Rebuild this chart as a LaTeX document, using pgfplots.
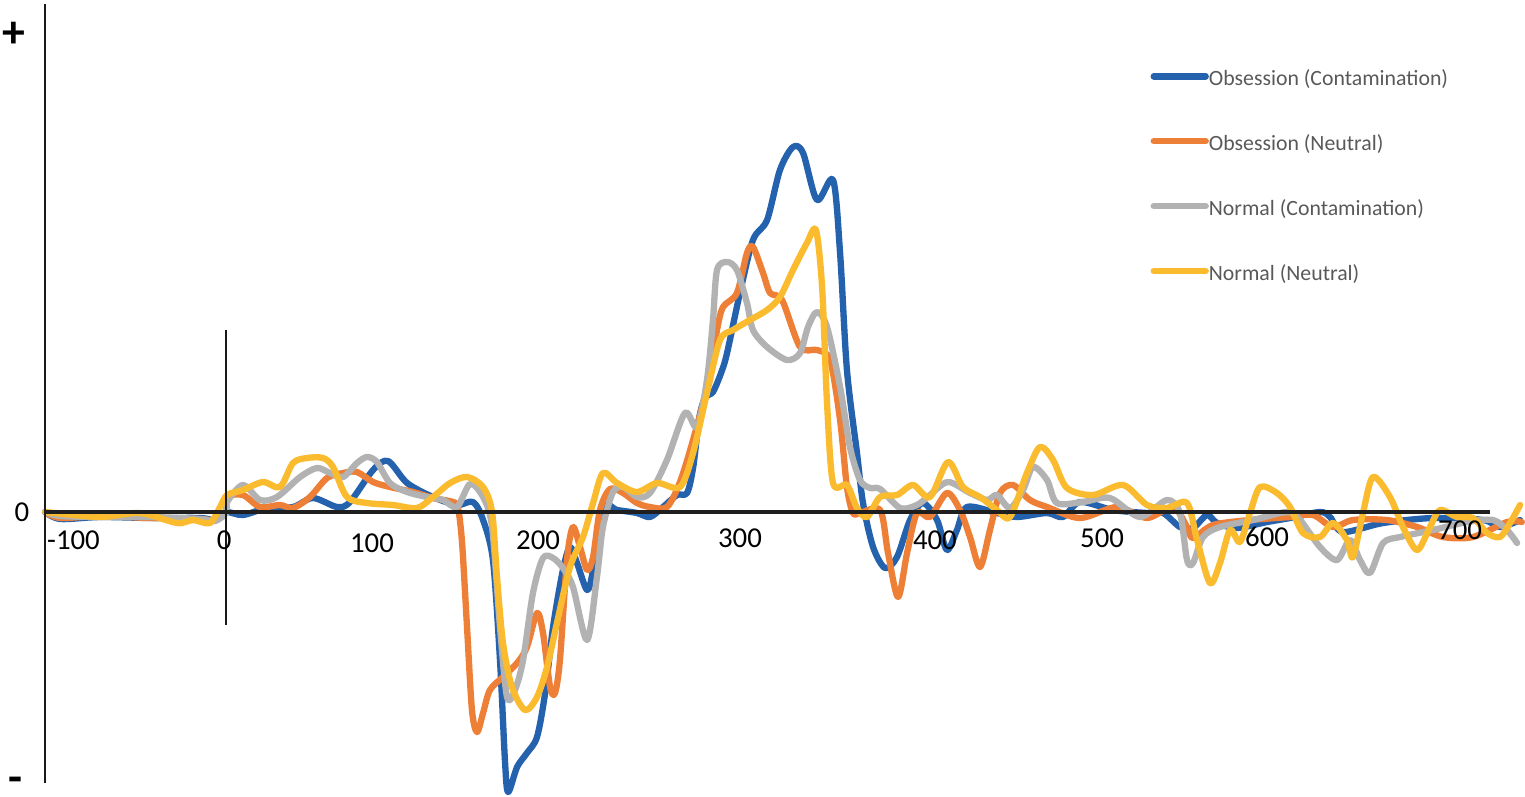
\documentclass[border=0pt]{standalone}
\usepackage{fontspec}
\setmainfont{Carlito}
\usepackage{pgfplots}
\pgfplotsset{compat=1.18}

\definecolor{oc}{HTML}{2462AE}
\definecolor{on}{HTML}{EE7F37}
\definecolor{nc}{HTML}{B2B2B2}
\definecolor{nn}{HTML}{FBBB2E}
\definecolor{legtext}{HTML}{595959}

\begin{document}
\begin{tikzpicture}
\begin{axis}[
  scale only axis, width=15.25cm, height=7.96cm,
  xmin=-128.2, xmax=736.8, ymin=-2.84, ymax=5.12,
  axis lines=none,
  every axis plot/.append style={line width=1.8pt, line cap=round, line join=round, smooth, tension=0.5},
  legend cell align=left,
  legend image code/.code={\draw[#1] (0mm,0mm) -- (5.2mm,0mm);},
  legend style={draw=none, fill=none, at={(rel axis cs:0.754,0.925)}, anchor=north west,
    inner sep=0pt, row sep=3.3mm, font=\fontsize{6.2}{7.4}\selectfont, text=legtext,
    nodes={inner sep=0pt, text height=1.5ex, text depth=.4ex},
    /tikz/every even column/.append style={column sep=0.15mm}},
]
\path (rel axis cs:0,0) rectangle (rel axis cs:1,1);

% Obsession (Contamination)
\addplot[oc] coordinates {
(-102.7,0) (-94,-0.07) (-71.5,-0.05) (-43,-0.06) (-14.7,-0.06) (-6.2,-0.08) (0,0)
(9.6,-0.03) (23.3,0.04) (38,0.05) (49.3,0.14) (63,0.05) (70.3,0.10) (83.4,0.42)
(91.9,0.51) (102.7,0.29) (117.4,0.15) (131,0.07) (140.1,0.10) (145.8,-0.08)
(151.4,-0.48) (155.4,-1.48) (158.2,-2.48) (160,-2.80) (165.1,-2.55) (170.7,-2.41)
(176.4,-2.25) (181,-1.81) (185.5,-1.15) (191.1,-0.58) (195.1,-0.35) (199.1,-0.51)
(204.8,-0.78) (208.2,-0.58) (213.8,0.05) (221.8,0.02) (233.1,-0.01) (240.5,-0.05)
(247.9,0.05) (255.8,0.17) (261.5,0.19) (265,0.45) (268.5,0.95) (272,1.15) (276.2,1.20)
(281,1.40) (284.2,1.59) (291.5,2.19) (298.9,2.72) (306.9,2.92) (314.2,3.42)
(321.6,3.65) (327.3,3.59) (335.2,3.12) (344.3,3.32) (348.3,2.59) (352.2,1.42)
(357.9,0.59) (361.3,0.09) (367,-0.35) (373.8,-0.56) (380.6,-0.45) (388,-0.08)
(395.3,0.09) (403.3,-0.08) (408.9,-0.38) (414.6,-0.18) (420.3,0.05) (437.3,-0.01)
(448.7,-0.05) (465.7,-0.01) (474.7,-0.05) (484.4,0.10) (503.1,0.02) (522.4,-0.01)
(531.5,-0.01) (541.1,-0.15) (548.5,-0.16) (556.4,-0.03) (562.1,-0.11) (573.4,-0.16)
(590.5,-0.10) (603.5,-0.06) (620.5,0) (626.2,-0.05) (633.6,-0.20) (656.3,-0.11)
(684.6,-0.06) (713,-0.08) (722.6,-0.15) (734,-0.08)
};
\addlegendentry{Obsession (Contamination)}

% Obsession (Neutral)
\addplot[on] coordinates {
(-102.7,0) (-94,-0.06) (-71.5,-0.04) (-43,-0.06) (-14.7,-0.07) (-6.2,-0.08) (0,0)
(0.6,0.15) (9.6,0.17) (19.3,0.05) (30.6,0.07) (38,0.04) (47.6,0.15) (57.3,0.34)
(66.4,0.39) (74.3,0.40) (83.4,0.30) (93,0.25) (106.1,0.20) (117.4,0.14) (128.8,0.10)
(131.6,0.04) (133.9,-0.31) (136.7,-1.15) (139.5,-1.98) (142.4,-2.20) (145.8,-2.01)
(149.7,-1.78) (157.1,-1.65) (165.1,-1.51) (170.7,-1.35) (176.4,-1.01) (179.8,-1.21)
(183.8,-1.75) (186.6,-1.81) (189.4,-1.48) (193.4,-0.48) (196.8,-0.15) (200.8,-0.35)
(204.8,-0.58) (208.2,-0.45) (212.1,0.02) (217.8,0.23) (225.2,0.19) (233.1,0.09)
(240.5,0.05) (250.1,0.05) (257.5,0.30) (264.9,0.72) (272.8,1.25) (278.5,1.82)
(281.9,2.05) (289.8,2.19) (295.5,2.59) (298.9,2.65) (304.6,2.39) (308.6,2.19)
(315.4,2.12) (325.6,1.65) (335.2,1.62) (342.6,1.52) (348.3,0.92) (352.2,0.25)
(355.6,-0.01) (359.6,-0.01) (371,0.02) (375.5,-0.41) (381.2,-0.85) (386.3,-0.41)
(391.9,-0.01) (399.3,-0.05) (408.9,0.19) (416.3,0.02) (422,-0.25) (427.7,-0.55)
(433.3,-0.18) (439,0.19) (446.4,0.27) (456,0.12) (465.7,0.05) (484.4,-0.06)
(505.4,0.05) (522.4,-0.06) (537.1,0.05) (545.1,-0.15) (548.5,-0.26) (559.8,-0.13)
(580.8,-0.08) (603.5,-0.05) (616.5,-0.03) (627.9,-0.15) (639.2,-0.08) (658.5,-0.08)
(675.6,-0.15) (690.3,-0.25) (707.3,-0.25) (726.6,-0.10) (735,-0.10)
};
\addlegendentry{Obsession (Neutral)}

% Normal (Contamination)
\addplot[nc] coordinates {
(-102.7,0) (-94,-0.04) (-71.5,-0.05) (-43,-0.05) (-14.7,-0.07) (-6.2,-0.09) (0,-0.01)
(0.6,0.10) (9.6,0.27) (19.3,0.12) (28.9,0.15) (42,0.35) (51.6,0.44) (59,0.39)
(66.4,0.35) (74.3,0.49) (80,0.55) (85.6,0.50) (93,0.29) (102.7,0.20) (114,0.15)
(123.1,0.12) (131,0.05) (138.4,0.28) (145.8,0.15) (150.9,-0.15) (155.4,-1.15)
(159.4,-1.85) (163.9,-1.78) (168.5,-1.48) (174.1,-0.81) (179.8,-0.46) (185.5,-0.46)
(191.1,-0.56) (196.8,-0.75) (204.8,-1.28) (210.4,-0.65) (213.8,-0.15) (219.5,0.20)
(225.2,0.25) (233.1,0.15) (240.5,0.19) (250.1,0.52) (260.3,0.99) (267.2,0.85)
(272.8,1.32) (276.2,1.92) (278.5,2.42) (284.2,2.50) (289.8,2.42) (295.5,2.09)
(298.9,1.82) (306.9,1.65) (318.2,1.52) (325.6,1.59) (330.1,1.85) (335.2,2.00)
(340.9,1.85) (348.3,1.25) (353.9,0.65) (359.6,0.32) (365.3,0.24) (371,0.23)
(382.3,0.04) (391.9,0.07) (399.3,0.17) (409.5,0.30) (422,0.19) (431.6,0.12)
(437.3,0.17) (444.7,0.04) (452.1,0.22) (457.7,0.45) (465.7,0.32) (471.3,0.09)
(486.1,0.10) (501.4,0.14) (518.4,-0.05) (533.7,0.12) (541.1,-0.01) (545.1,-0.48)
(548.5,-0.51) (554.2,-0.25) (563.8,-0.15) (582.5,-0.08) (601.8,0) (609.2,-0.08)
(620.5,-0.35) (630.2,-0.48) (637.5,-0.28) (643.2,-0.48) (648.9,-0.61) (656.3,-0.31)
(665.9,-0.25) (684.6,-0.18) (703.9,-0.10) (718.6,-0.08) (726.6,-0.18) (732.3,-0.31)
};
\addlegendentry{Normal (Contamination)}

% Normal (Neutral)
\addplot[nn] coordinates {
(-102.5,0) (-71.5,-0.05) (-48.8,-0.01) (-27.8,-0.11) (-18.7,-0.08) (-9.1,-0.11)
(-3.4,0.05) (0.6,0.17) (9.6,0.22) (21,0.30) (30.6,0.25) (38,0.49) (45.9,0.54)
(55,0.54) (60.7,0.45) (68.6,0.15) (80,0.09) (94.7,0.07) (108.3,0.04) (117.4,0.15)
(127.1,0.29) (136.7,0.35) (145.8,0.25) (150.9,0) (153.7,-0.65) (157.1,-1.31)
(162.2,-1.75) (169.6,-1.98) (176.4,-1.85) (182.1,-1.55) (187.7,-1.11) (195.1,-0.55)
(202.5,-0.25) (208.2,0.09) (213.8,0.39) (221.8,0.29) (233.1,0.20) (244.5,0.29)
(257.5,0.25) (264.9,0.59) (272.8,1.19) (280.2,1.72) (287.6,1.82) (297.2,1.92)
(306.9,2.02) (314.2,2.15) (321.6,2.42) (329.5,2.69) (334.6,2.82) (338.1,2.25)
(340.9,1.09) (344.3,0.29) (352.2,0.27) (357.9,0.04) (363.6,-0.05) (371,0.15)
(380.6,0.17) (389.7,0.27) (399.3,0.15) (409.5,0.50) (418,0.25) (427.7,0.15)
(437.3,0.02) (444.7,-0.05) (454.3,0.39) (461.7,0.65) (469.1,0.52) (477,0.24)
(491.8,0.17) (508.8,0.27) (522.4,0.07) (533.7,0.04) (545.1,0.09) (550.8,-0.28)
(558.1,-0.71) (563.8,-0.51) (569.5,-0.18) (575.1,-0.30) (580.8,-0.01) (586.5,0.25)
(596.1,0.19) (603.5,0.05) (610.9,-0.21) (620.5,-0.25) (627.9,-0.11) (635.8,-0.28)
(639.2,-0.45) (644.9,-0.01) (650.6,0.35) (660.2,0.15) (667.6,-0.15) (675.6,-0.38)
(682.9,-0.15) (688.6,0.02) (698.2,-0.05) (707.3,-0.06) (715.3,-0.21) (722.6,-0.25)
(728.3,-0.11) (734,0.07)
};
\addlegendentry{Normal (Neutral)}

% axes and stimulus onset
\draw[black!90, line width=0.6pt] (axis cs:-102.7,5.08) -- (axis cs:-102.7,-2.71);
\draw[black!90, line width=0.55pt] (axis cs:0,1.82) -- (axis cs:0,-1.13);
\draw[black!88, line width=1.15pt] (axis cs:-102.7,0) -- (axis cs:717,0);

% labels
\node[font=\fontsize{13}{13}\selectfont\bfseries] at (axis cs:-120.2,4.77) {+};
\node[anchor=base, inner sep=0pt, font=\fontsize{13}{13}\selectfont\bfseries] at (axis cs:-119.5,-2.80) {-};
\begin{scope}[every node/.style={font=\fontsize{8.2}{9}\selectfont, inner sep=0pt}]
\node at (axis cs:-115.7,0) {0};
\node at (axis cs:-86.5,-0.28) {-100};
\node at (axis cs:-1.1,-0.28) {0};
\node at (axis cs:82.8,-0.31) {100};
\node at (axis cs:177,-0.28) {200};
\node at (axis cs:291.5,-0.26) {300};
\node at (axis cs:402.1,-0.28) {400};
\node at (axis cs:496.9,-0.26) {500};
\node at (axis cs:590.5,-0.25) {600};
\node at (axis cs:700,-0.18) {700};
\end{scope}
\end{axis}
\end{tikzpicture}
\end{document}
